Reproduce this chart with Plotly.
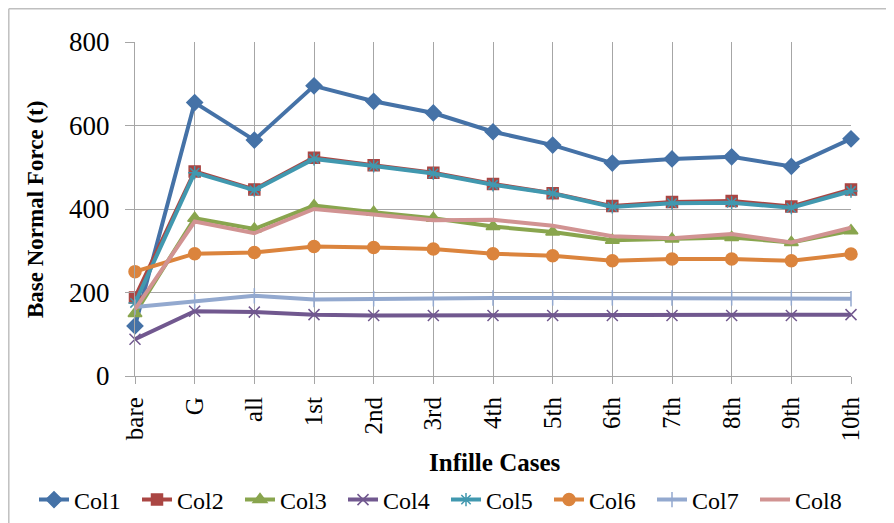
import plotly.graph_objects as go

categories = ["bare", "G", "all", "1st", "2nd", "3rd", "4th", "5th", "6th", "7th", "8th", "9th", "10th"]
col1 = [120, 655, 565, 695, 658, 630, 585, 553, 510, 520, 525, 502, 568]
col2 = [188, 490, 447, 523, 505, 487, 460, 438, 407, 417, 419, 406, 447]
col3 = [150, 378, 352, 408, 392, 378, 358, 345, 325, 328, 332, 320, 348]
col4 = [88, 155, 153, 147, 145, 145, 145, 145, 145, 145, 145, 145, 147]
col5 = [175, 487, 445, 520, 503, 485, 458, 437, 405, 414, 415, 403, 443]
col6 = [250, 293, 296, 310, 308, 304, 293, 288, 276, 280, 280, 276, 292]
col7 = [165, 178, 192, 183, 185, 185, 187, 187, 187, 187, 187, 187, 185]
col8 = [160, 370, 342, 400, 387, 373, 374, 360, 335, 330, 340, 320, 355]
y_ticks = [0, 200, 400, 600, 800]

series = [
    ("Col1", col1, "#4572A7", "diamond", 12),
    ("Col2", col2, "#AA4643", "square", 11),
    ("Col3", col3, "#89A54E", "triangle-up", 12),
    ("Col4", col4, "#71588F", "x-thin", 11),
    ("Col5", col5, "#4198AF", "asterisk", 11),
    ("Col6", col6, "#DB843D", "circle", 12),
    ("Col7", col7, "#93A9CF", "line-ns", 11),
    ("Col8", col8, "#D19392", None, 0),
]

# page offset of the figure (default body margin)
OFF = 8
FW, FH = 894 - OFF, 523 - OFF
# target plot-area edges in screenshot pixels
L, R, T, B = 135, 851, 42, 376
W, H = R - L, B - T

x_idx = list(range(len(categories)))
fig = go.Figure()
for name, vals, color, sym, size in series:
    if sym is None:
        mode = "lines"
        marker = dict()
    else:
        mode = "lines+markers"
        marker = dict(symbol=sym, size=size, color=color,
                      line=dict(color=color, width=1.5))
    fig.add_trace(go.Scatter(
        x=x_idx, y=vals, name=name, mode=mode,
        line=dict(color=color, width=4),
        marker=marker, cliponaxis=False,
    ))

font_fam = "Liberation Serif, Times New Roman, serif"
fig.update_layout(
    width=FW, height=FH,
    margin=dict(l=L - OFF, r=FW - (R - OFF), t=T - OFF, b=FH - (B - OFF), autoexpand=False),
    paper_bgcolor="white", plot_bgcolor="white",
    font=dict(family=font_fam, color="black"),
    showlegend=True,
    legend=dict(orientation="h",
                x=(34 - L) / W, xanchor="left",
                y=(B - 500) / H, yanchor="middle",
                font=dict(size=24, family=font_fam), itemwidth=30,
                entrywidth=58, entrywidthmode="pixels",
                tracegroupgap=0, bgcolor="rgba(0,0,0,0)"),
    xaxis=dict(
        tickmode="array", tickvals=x_idx, ticktext=categories,
        range=[0, 12], tickangle=-90, automargin=False,
        showgrid=True, gridcolor="#a6a6a6", gridwidth=1.2,
        showline=True, linecolor="#a6a6a6", linewidth=1.2,
        ticks="outside", ticklen=7, tickcolor="#a6a6a6",
        tickfont=dict(size=25, family=font_fam), ticklabelstandoff=3,
        zeroline=False,
    ),
    yaxis=dict(
        range=[0, 800], tickvals=y_ticks, automargin=False,
        showgrid=True, gridcolor="#a6a6a6", gridwidth=1.2,
        showline=True, linecolor="#a6a6a6", linewidth=1.2,
        ticks="outside", ticklen=9, tickcolor="#a6a6a6",
        tickfont=dict(size=27, family=font_fam), ticklabelstandoff=10,
        zeroline=False,
    ),
)
fig.add_annotation(text="<b>Base Normal Force (t)</b>", xref="paper", yref="paper",
                   x=(35 - L) / W, y=(B - 210) / H, textangle=-90, showarrow=False,
                   font=dict(size=23, family=font_fam), xanchor="center", yanchor="middle")
fig.add_annotation(text="<b>Infille Cases</b>", xref="paper", yref="paper",
                   x=(495 - L) / W, y=(B - 463) / H, showarrow=False,
                   font=dict(size=25, family=font_fam), xanchor="center", yanchor="middle")
# outer chart border (left and top visible)
bx = (OFF + 0.8 - L) / W
by = 1 + (T - OFF - 0.8) / H
fig.add_shape(type="line", xref="paper", yref="paper",
              x0=bx, x1=bx, y0=by, y1=-0.7, line=dict(color="#bfbfbf", width=1.5))
fig.add_shape(type="line", xref="paper", yref="paper",
              x0=bx, x1=1.2, y0=by, y1=by, line=dict(color="#bfbfbf", width=1.5))
fig.write_html("out.html")
